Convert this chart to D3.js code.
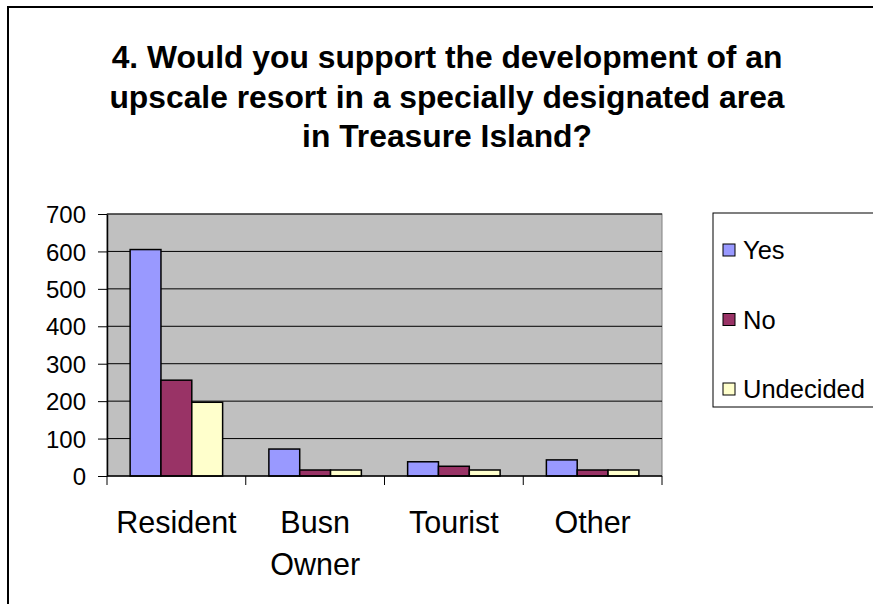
<!DOCTYPE html>
<html>
<head>
<meta charset="utf-8">
<script src="https://cdn.jsdelivr.net/npm/d3@7"></script>
<style>
  body { margin: 0; background: #fff; overflow: hidden; }
  svg { display: block; font-family: Arial, "Liberation Sans", sans-serif; }
</style>
</head>
<body>
<svg width="873" height="604"></svg>
<script>
var categories = [["Resident"], ["Busn", "Owner"], ["Tourist"], ["Other"]];
var seriesNames = ["Yes", "No", "Undecided"];
var yesValues = [605, 72, 38, 43];
var noValues = [256, 16, 26, 16];
var undecidedValues = [197, 16, 16, 16];
var yTicks = [0, 100, 200, 300, 400, 500, 600, 700];
var titleLines = ["4. Would you support the development of an",
                  "upscale resort in a specially designated area",
                  "in Treasure Island?"];

var colors = { Yes: "#9999FF", No: "#993366", Undecided: "#FFFFCC" };
var seriesValues = { Yes: yesValues, No: noValues, Undecided: undecidedValues };

var svg = d3.select('svg');

// chart border (right and bottom edges fall outside the picture)
svg.append('rect')
  .attr('x', 8).attr('y', 7)
  .attr('width', 900).attr('height', 700)
  .attr('fill', '#fff')
  .attr('stroke', '#000')
  .attr('stroke-width', 2);

// title
svg.append('g')
  .selectAll('text')
  .data(titleLines)
  .enter()
  .append('text')
    .attr('x', 447)
    .attr('y', (d, i) => 68 + i * 39.5)
    .attr('text-anchor', 'middle')
    .style('font-size', '31.8px')
    .style('font-weight', 'bold')
    .text(d => d);

var catKeys = categories.map(d => d.join(' '));

var x = d3.scaleBand()
          .domain(catKeys)
          .range([107, 662]);

var xSub = d3.scaleBand()
             .domain(seriesNames)
             .range([0, x.bandwidth()])
             .paddingInner(0)
             .paddingOuter(0.75);

var y = d3.scaleLinear()
          .domain([0, 700])
          .range([476, 214]);

// plot area
svg.append('rect')
  .attr('x', 107).attr('y', y(700))
  .attr('width', 555).attr('height', y(0) - y(700))
  .attr('fill', '#C0C0C0')
  .attr('stroke', '#808080')
  .attr('stroke-width', 1);

svg.append('g')
  .selectAll('line')
  .data(yTicks.slice(1))
  .enter()
  .append('line')
    .attr('x1', 107).attr('x2', 662)
    .attr('y1', d => y(d)).attr('y2', d => y(d))
    .attr('stroke', '#000')
    .attr('stroke-width', 1);

// bars
var bars = [];
seriesNames.forEach(s => {
  seriesValues[s].forEach((v, i) => bars.push({ series: s, cat: catKeys[i], value: v }));
});

svg.append('g')
  .selectAll('rect')
  .data(bars)
  .enter()
  .append('rect')
    .attr('x', d => x(d.cat) + xSub(d.series))
    .attr('y', d => y(d.value))
    .attr('width', xSub.bandwidth())
    .attr('height', d => y(0) - y(d.value))
    .attr('fill', d => colors[d.series])
    .attr('stroke', '#000')
    .attr('stroke-width', 1.5);

// y axis
var yAxis = d3.axisLeft(y)
              .tickValues(yTicks)
              .tickSizeInner(9)
              .tickSizeOuter(0)
              .tickPadding(12);

var gy = svg.append('g')
  .attr('transform', 'translate(107,0)')
  .call(yAxis);
gy.select('.domain').attr('stroke', '#000').attr('stroke-width', 1.5);
gy.selectAll('.tick line').attr('stroke', '#000');
gy.selectAll('.tick text')
  .attr('fill', '#000')
  .style('font-size', '24px')
  .style('font-family', 'Arial, "Liberation Sans", sans-serif')
  .attr('dy', '0.36em');

// x axis
var gx = svg.append('g').attr('transform', 'translate(0,476)');
gx.append('line')
  .attr('x1', 107).attr('x2', 662)
  .attr('stroke', '#000').attr('stroke-width', 1.5);

var boundaries = catKeys.map(c => x(c)).concat([x.range()[1]]);
gx.selectAll('line.tick')
  .data(boundaries)
  .enter()
  .append('line')
    .attr('class', 'tick')
    .attr('x1', d => d).attr('x2', d => d)
    .attr('y1', 0).attr('y2', 9)
    .attr('stroke', '#000');

var xl = gx.selectAll('text.cat')
  .data(categories)
  .enter()
  .append('text')
    .attr('class', 'cat')
    .attr('text-anchor', 'middle')
    .attr('transform', (d, i) => 'translate(' + (x(catKeys[i]) + x.bandwidth() / 2) + ',57)')
    .style('font-size', '30.5px');
xl.selectAll('tspan')
  .data(d => d)
  .enter()
  .append('tspan')
    .attr('x', 0)
    .attr('y', (d, i) => i * 42)
    .text(d => d);

// legend
var legend = svg.append('g');
legend.append('rect')
  .attr('x', 713).attr('y', 213)
  .attr('width', 200).attr('height', 194)
  .attr('fill', '#fff')
  .attr('stroke', '#000')
  .attr('stroke-width', 1);

var items = legend.selectAll('g.item')
  .data(seriesNames)
  .enter()
  .append('g')
    .attr('class', 'item')
    .attr('transform', (d, i) => 'translate(723,' + (250 + i * 69.5) + ')');
items.append('rect')
  .attr('x', 0).attr('y', -6)
  .attr('width', 12).attr('height', 12)
  .attr('fill', d => colors[d])
  .attr('stroke', '#000')
  .attr('stroke-width', 1);
items.append('text')
  .attr('x', 20)
  .attr('dy', '0.36em')
  .style('font-size', '25.5px')
  .text(d => d);
</script>
</body>
</html>
